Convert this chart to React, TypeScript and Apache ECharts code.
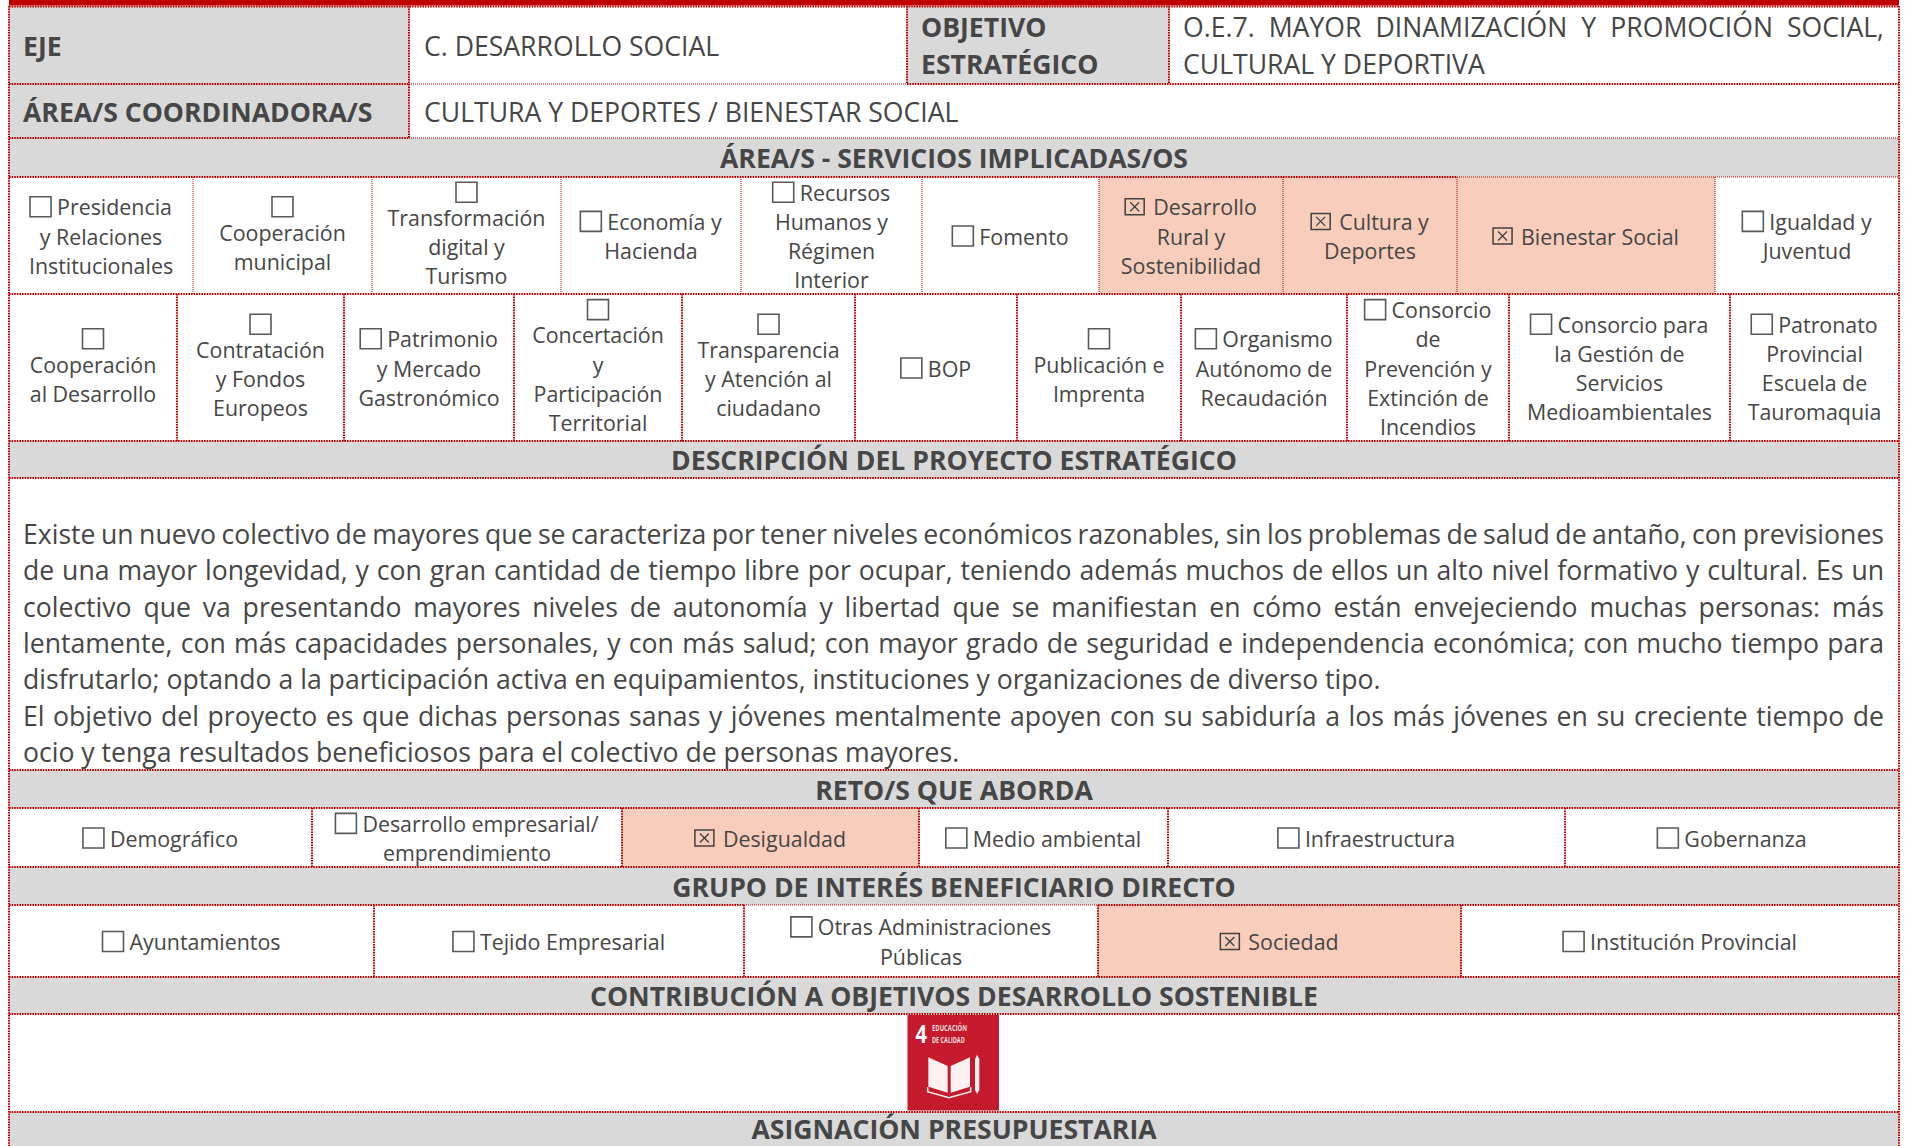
import React, { useEffect, useRef } from "react";
import * as echarts from "echarts";

const FONT = "'Open Sans', sans-serif";
const TEXT = "#464646";
const GREY = "#d9d9d9";
const PEACH = "#f9cdbc";
const RED = "#c00000";

// ---- content ----
const headings = [
  "ÁREA/S - SERVICIOS IMPLICADAS/OS",
  "DESCRIPCIÓN DEL PROYECTO ESTRATÉGICO",
  "RETO/S QUE ABORDA",
  "GRUPO DE INTERÉS BENEFICIARIO DIRECTO",
  "CONTRIBUCIÓN A OBJETIVOS DESARROLLO SOSTENIBLE",
  "ASIGNACIÓN PRESUPUESTARIA",
];
const paragraph = [
  "Existe un nuevo colectivo de mayores que se caracteriza por tener niveles económicos razonables, sin los problemas de salud de antaño, con previsiones",
  "de una mayor longevidad, y con gran cantidad de tiempo libre por ocupar, teniendo además muchos de ellos un alto nivel formativo y cultural. Es un",
  "colectivo que va presentando mayores niveles de autonomía y libertad que se manifiestan en cómo están envejeciendo muchas personas: más",
  "lentamente, con más capacidades personales, y con más salud; con mayor grado de seguridad e independencia económica; con mucho tiempo para",
  "disfrutarlo; optando a la participación activa en equipamientos, instituciones y organizaciones de diverso tipo.",
  "El objetivo del proyecto es que dichas personas sanas y jóvenes mentalmente apoyen con su sabiduría a los más jóvenes en su creciente tiempo de",
  "ocio y tenga resultados beneficiosos para el colectivo de personas mayores.",
];
const justifiedLines = [true, true, true, true, false, true, false];

// first element: "i" box inline, "o" box on its own line; "x" checked inline
const serviciosA = [
  ["i", "Presidencia", "y Relaciones", "Institucionales"],
  ["o", "Cooperación", "municipal"],
  ["o", "Transformación", "digital y", "Turismo"],
  ["i", "Economía y", "Hacienda"],
  ["i", "Recursos", "Humanos y", "Régimen", "Interior"],
  ["i", "Fomento"],
  ["x", "Desarrollo", "Rural y", "Sostenibilidad"],
  ["x", "Cultura y", "Deportes"],
  ["x", "Bienestar Social"],
  ["i", "Igualdad y", "Juventud"],
];
const serviciosB = [
  ["o", "Cooperación", "al Desarrollo"],
  ["o", "Contratación", "y Fondos", "Europeos"],
  ["i", "Patrimonio", "y Mercado", "Gastronómico"],
  ["o", "Concertación", "y", "Participación", "Territorial"],
  ["o", "Transparencia", "y Atención al", "ciudadano"],
  ["i", "BOP"],
  ["o", "Publicación e", "Imprenta"],
  ["i", "Organismo", "Autónomo de", "Recaudación"],
  ["i", "Consorcio", "de", "Prevención y", "Extinción de", "Incendios"],
  ["i", "Consorcio para", "la Gestión de", "Servicios", "Medioambientales"],
  ["i", "Patronato", "Provincial", "Escuela de", "Tauromaquia"],
];
const retos = [
  ["i", "Demográfico"],
  ["i", "Desarrollo empresarial/", "emprendimiento"],
  ["x", "Desigualdad"],
  ["i", "Medio ambiental"],
  ["i", "Infraestructura"],
  ["i", "Gobernanza"],
];
const grupos = [
  ["i", "Ayuntamientos"],
  ["i", "Tejido Empresarial"],
  ["i", "Otras Administraciones", "Públicas"],
  ["x", "Sociedad"],
  ["i", "Institución Provincial"],
];

// ---- layout ----
const L = 9;
const R = 1899;
const Y = { top: 6, r1: 84, r2: 138, h1: 177, a: 294, b: 441, h2: 478, d: 770, h3: 808, ret: 867, h4: 905, gr: 977, h5: 1014, img: 1112, end: 1146 };
const edgesA = [L, 193, 372, 561, 741, 922, 1099, 1283, 1457, 1715, R];
const edgesB = [L, 177, 344, 514, 682, 855, 1017, 1181, 1347, 1509, 1730, R];
const edgesRet = [L, 312, 622, 919, 1168, 1565, R];
const edgesGr = [L, 374, 744, 1098, 1461, R];

const CELL_SIZE = 21.4;
const CELL_LH = 29.2;
const BODY_SIZE = 26.6;
const BODY_LH = 36.3;
const TITLE_SIZE = 26.6;
const OWN_BOX_SHIFT = 4;

const measureCtx = document.createElement("canvas").getContext("2d") as CanvasRenderingContext2D;
function textWidth(s: string, size: number, weight = "normal") {
  measureCtx.font = `${weight} ${size}px 'Open Sans'`;
  return measureCtx.measureText(s).width;
}

function txt(text: string, x: number, y: number, size: number, opts: any = {}) {
  return {
    type: "text",
    silent: true,
    style: {
      legacy: false,
      text,
      x,
      y,
      fontSize: size,
      fontFamily: FONT,
      fontWeight: opts.weight || "normal",
      fill: opts.fill || TEXT,
      align: opts.align || "left",
      verticalAlign: "middle",
    },
  };
}

function fill(x1: number, y1: number, x2: number, y2: number, color: string) {
  return { type: "rect", silent: true, shape: { x: x1, y: y1, width: x2 - x1, height: y2 - y1 }, style: { fill: color } };
}

function dotted(x1: number, y1: number, x2: number, y2: number, dark = true) {
  return {
    type: "line",
    silent: true,
    shape: { x1, y1, x2, y2 },
    style: { stroke: RED, lineWidth: 2, lineDash: dark ? [1.6, 1] : [1, 1], opacity: dark ? 1 : 0.5 },
  };
}

function box(x: number, cy: number, checked: boolean) {
  if (checked) {
    const w = 19, h = 16;
    const y0 = cy - h / 2;
    return [
      { type: "rect", silent: true, shape: { x, y: y0, width: w, height: h }, style: { fill: "none", stroke: "#404040", lineWidth: 1.5 } },
      { type: "line", silent: true, shape: { x1: x + 5, y1: y0 + 3.5, x2: x + w - 5, y2: y0 + h - 3.5 }, style: { stroke: "#404040", lineWidth: 1.3 } },
      { type: "line", silent: true, shape: { x1: x + w - 5, y1: y0 + 3.5, x2: x + 5, y2: y0 + h - 3.5 }, style: { stroke: "#404040", lineWidth: 1.3 } },
    ];
  }
  return [
    { type: "rect", silent: true, shape: { x, y: cy - 10, width: 21, height: 20 }, style: { fill: "none", stroke: "#595959", lineWidth: 1.6 } },
  ];
}

function cellElems(cell: string[], x1: number, x2: number, y1: number, y2: number) {
  const out: any[] = [];
  const kind = cell[0];
  const lines = cell.slice(1);
  const rows = kind === "o" ? lines.length + 1 : lines.length;
  const cx = (x1 + x2) / 2;
  const cy = (y1 + y2) / 2 + 0.5;
  const top = cy - ((rows - 1) * CELL_LH) / 2;
  let r = 0;
  let shift = 0;
  if (kind === "o") {
    out.push(...box(cx - 10.5, top, false));
    r = 1;
    shift = OWN_BOX_SHIFT;
  }
  lines.forEach((ln, i) => {
    const y = top + (r + i) * CELL_LH - shift;
    if (i === 0 && kind !== "o") {
      const bw = kind === "x" ? 19 : 21;
      const gap = kind === "x" ? 9 : 6;
      const w = textWidth(ln, CELL_SIZE);
      const sx = cx - (bw + gap + w) / 2;
      out.push(...box(sx, y, kind === "x"));
      out.push(txt(ln, sx + bw + gap, y, CELL_SIZE));
    } else {
      out.push(txt(ln, cx, y, CELL_SIZE, { align: "center" }));
    }
  });
  return out;
}

function justified(line: string, x1: number, x2: number, y: number, size: number) {
  const words = line.split(" ");
  const widths = words.map((w) => textWidth(w, size));
  const total = widths.reduce((a, b) => a + b, 0);
  const gap = (x2 - x1 - total) / (words.length - 1);
  let x = x1;
  return words.map((w, i) => {
    const e = txt(w, x, y, size);
    x += widths[i] + gap;
    return e;
  });
}

function sdgLabel(text: string, x: number, y: number, size: number, sx: number, color: string) {
  return {
    type: "text",
    silent: true,
    x,
    y,
    scaleX: sx,
    style: { legacy: false, text, x: 0, y: 0, fontSize: size, fontWeight: 700, fontFamily: FONT, fill: color, align: "left", verticalAlign: "middle" },
  };
}

function sdgIcon() {
  const px = (x: number) => 760 + x / 3;
  const py = (y: number) => 980 + y / 3;
  const pts = (a: number[][]) => a.map(([x, y]) => [px(x), py(y)]);
  const page = "#fdf1f1";
  return [
    fill(907.5, 1015, 999, 1110.5, "#c5192d"),
    sdgLabel("4", 915.5, 1034, 25, 0.8, "#ffffff"),
    sdgLabel("EDUCACIÓN", 932, 1027, 9.5, 0.62, "#f6dede"),
    sdgLabel("DE CALIDAD", 932, 1039, 9.5, 0.58, "#f6dede"),
    { type: "polygon", silent: true, shape: { points: pts([[505, 232], [563, 258], [563, 338], [505, 320]]) }, style: { fill: page } },
    { type: "polygon", silent: true, shape: { points: pts([[572, 258], [630, 232], [630, 320], [572, 338]]) }, style: { fill: page } },
    { type: "polyline", silent: true, shape: { points: pts([[503, 322], [503, 335], [567, 353], [632, 335], [632, 322]]) }, style: { stroke: page, fill: "none", lineWidth: 1.5 } },
    { type: "polygon", silent: true, shape: { points: pts([[645, 238], [651, 224], [658, 238], [658, 330], [651, 342], [645, 330]]) }, style: { fill: page } },
  ];
}

function buildGraphic() {
  const els: any[] = [];
  // fills
  els.push(fill(0, 0, 1906, 1146, "#ffffff"));
  els.push(fill(L, Y.top, 409, Y.r2, GREY));
  els.push(fill(907, Y.top, 1169, Y.r1, GREY));
  [[Y.r2, Y.h1], [Y.b, Y.h2], [Y.d, Y.h3], [Y.ret, Y.h4], [Y.gr, Y.h5], [Y.img, Y.end]].forEach(([a, b]) => els.push(fill(L, a, R, b, GREY)));
  els.push(fill(edgesA[6], Y.h1, edgesA[9], Y.a, PEACH));
  els.push(fill(edgesRet[2], Y.h3, edgesRet[3], Y.ret, PEACH));
  els.push(fill(edgesGr[3], Y.h4, edgesGr[4], Y.gr, PEACH));

  // top bar
  els.push(fill(L, 0, R, 5.5, RED));

  // rules
  els.push(dotted(L, Y.top, L, Y.end), dotted(R, Y.top, R, Y.end));
  els.push(dotted(L, Y.top + 0.5, R, Y.top + 0.5, true));
  els.push(dotted(L, Y.r1, 409, Y.r1), dotted(409, Y.r1, 907, Y.r1, false), dotted(907, Y.r1, R, Y.r1));
  els.push(dotted(L, Y.r2, 409, Y.r2), dotted(409, Y.r2, R, Y.r2, false));
  els.push(dotted(L, Y.h1, 1457, Y.h1), dotted(1457, Y.h1, R, Y.h1, false));
  [Y.a, Y.b, Y.h2, Y.d, Y.h3, Y.ret, Y.gr, Y.h5, Y.img].forEach((y) => els.push(dotted(L, y, R, y)));
  els.push(dotted(L, Y.h4, 744, Y.h4), dotted(744, Y.h4, 1098, Y.h4, false), dotted(1098, Y.h4, R, Y.h4));
  [409, 907, 1169].forEach((x) => els.push(dotted(x, Y.top, x, x === 409 ? Y.r2 : Y.r1)));
  edgesA.slice(1, -1).forEach((x) => els.push(dotted(x, Y.h1, x, Y.a, false)));
  edgesB.slice(1, -1).forEach((x) => els.push(dotted(x, Y.a, x, Y.b)));
  edgesRet.slice(1, -1).forEach((x) => els.push(dotted(x, Y.h3, x, Y.ret)));
  edgesGr.slice(1, -1).forEach((x) => els.push(dotted(x, Y.h4, x, Y.gr)));

  // top rows
  els.push(txt("EJE", 23, 46, TITLE_SIZE, { weight: 700 }));
  els.push(txt("C. DESARROLLO SOCIAL", 424, 46, TITLE_SIZE));
  els.push(txt("OBJETIVO", 921, 27, TITLE_SIZE, { weight: 700 }));
  els.push(txt("ESTRATÉGICO", 921, 64, TITLE_SIZE, { weight: 700 }));
  els.push(...justified("O.E.7. MAYOR DINAMIZACIÓN Y PROMOCIÓN SOCIAL,", 1183, 1884, 27, TITLE_SIZE));
  els.push(txt("CULTURAL Y DEPORTIVA", 1183, 64, TITLE_SIZE));
  els.push(txt("ÁREA/S COORDINADORA/S", 23, 112, TITLE_SIZE, { weight: 700 }));
  els.push(txt("CULTURA Y DEPORTES / BIENESTAR SOCIAL", 424, 112, TITLE_SIZE));

  // headings
  const cx = (L + R) / 2;
  const hy = [(Y.r2 + Y.h1) / 2, (Y.b + Y.h2) / 2, (Y.d + Y.h3) / 2 + 1, (Y.ret + Y.h4) / 2 + 1, (Y.gr + Y.h5) / 2, 1129];
  headings.forEach((h, i) => els.push(txt(h, cx, hy[i], TITLE_SIZE, { weight: 700, align: "center" })));

  // cells
  serviciosA.forEach((c, i) => els.push(...cellElems(c, edgesA[i], edgesA[i + 1], Y.h1, Y.a)));
  serviciosB.forEach((c, i) => els.push(...cellElems(c, edgesB[i], edgesB[i + 1], Y.a, Y.b)));
  retos.forEach((c, i) => els.push(...cellElems(c, edgesRet[i], edgesRet[i + 1], Y.h3, Y.ret)));
  grupos.forEach((c, i) => els.push(...cellElems(c, edgesGr[i], edgesGr[i + 1], Y.h4, Y.gr)));

  // paragraph
  paragraph.forEach((ln, i) => {
    const y = 534 + i * BODY_LH;
    if (justifiedLines[i]) els.push(...justified(ln, 23, 1884, y, BODY_SIZE));
    else els.push(txt(ln, 23, y, BODY_SIZE));
  });

  els.push(...sdgIcon());
  return els;
}

export default function App() {
  const ref = useRef<HTMLDivElement>(null);
  useEffect(() => {
    let disposed = false;
    let chart: echarts.ECharts | null = null;
    const draw = () => {
      if (disposed || !ref.current) return;
      chart = echarts.init(ref.current, undefined, { renderer: "svg" });
      chart.setOption({ animation: false, graphic: { elements: buildGraphic() } });
    };
    const fonts: any = (document as any).fonts;
    if (fonts && fonts.load) {
      Promise.all([fonts.load("400 20px 'Open Sans'"), fonts.load("700 20px 'Open Sans'")]).then(draw, draw);
    } else draw();
    return () => {
      disposed = true;
      if (chart) chart.dispose();
    };
  }, []);
  return <div ref={ref} style={{ position: "absolute", left: 0, top: 0, width: 1906, height: 1146, background: "#fff" }} />;
}
